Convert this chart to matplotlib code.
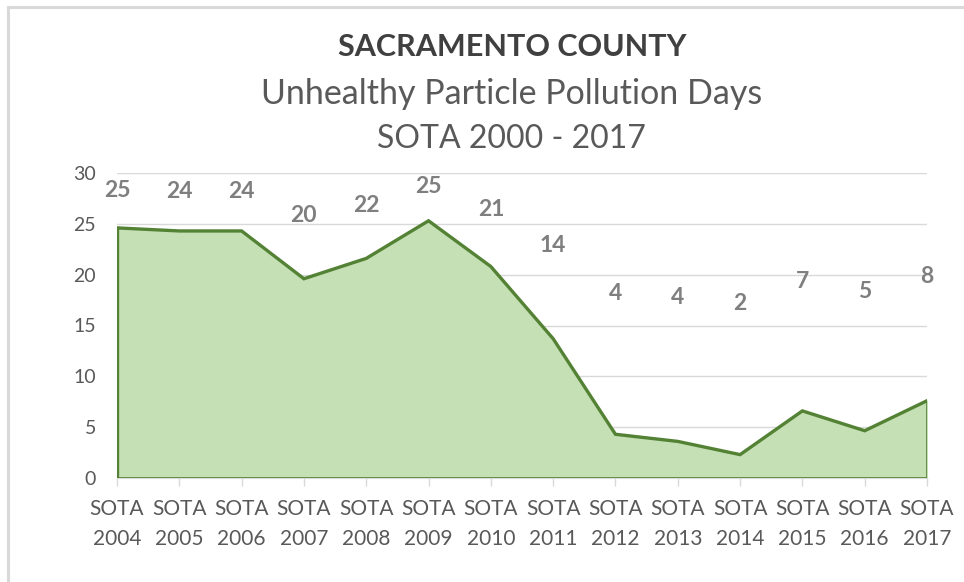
import matplotlib
matplotlib.use("Agg")
import matplotlib.pyplot as plt
from matplotlib.patches import Rectangle

categories = ["SOTA\n2004", "SOTA\n2005", "SOTA\n2006", "SOTA\n2007", "SOTA\n2008",
              "SOTA\n2009", "SOTA\n2010", "SOTA\n2011", "SOTA\n2012", "SOTA\n2013",
              "SOTA\n2014", "SOTA\n2015", "SOTA\n2016", "SOTA\n2017"]
values = [24.6, 24.3, 24.3, 19.6, 21.6, 25.3, 20.8, 13.7, 4.3, 3.6, 2.3, 6.6, 4.65, 7.6]
labels = ["25", "24", "24", "20", "22", "25", "21", "14", "4", "4", "2", "7", "5", "8"]
yticks = [0, 5, 10, 15, 20, 25, 30]

title1 = "SACRAMENTO COUNTY"
title2 = "Unhealthy Particle Pollution Days"
title3 = "SOTA 2000 - 2017"

plt.rcParams['font.family'] = ['Lato', 'DejaVu Sans']

fig = plt.figure(figsize=(9.64, 5.82), dpi=100)
fig.patch.set_facecolor("white")
# outer border
fig.patches.append(Rectangle((8 / 964, -0.01), 1.02, (582 - 7) / 582 + 0.01,
                             transform=fig.transFigure, fill=False,
                             edgecolor="#d9d9d9", linewidth=2.2))

ax = fig.add_axes([117 / 964, (582 - 478) / 582, (927 - 117) / 964, (478 - 173) / 582])
x = list(range(len(values)))
ax.fill_between(x, values, 0, color="#c5e0b4", zorder=2)
ax.plot(x, values, color="#548235", linewidth=2.4, zorder=3, solid_joinstyle="miter")
ax.plot([0, 0], [0, values[0]], color="#548235", linewidth=2.4, zorder=3)
ax.plot([x[-1], x[-1]], [0, values[-1]], color="#548235", linewidth=1.2, zorder=3)
ax.plot([0, x[-1]], [0, 0], color="#548235", linewidth=1.2, zorder=3)

ax.set_xlim(0, len(values) - 1)
ax.set_ylim(0, 30)
ax.set_yticks(yticks)
ax.set_xticks(x)
ax.set_xticklabels(categories, fontsize=15, color="#595959", linespacing=1.64)
ax.tick_params(axis="y", length=0, labelsize=14, labelcolor="#595959", pad=15)
ax.tick_params(axis="x", length=6, color="#d9d9d9", width=1, pad=9)
ax.grid(axis="y", color="#d9d9d9", linewidth=1, zorder=0)
for s in ["top", "right", "left"]:
    ax.spines[s].set_visible(False)
ax.spines["bottom"].set_color("#d9d9d9")
ax.set_axisbelow(True)

for xi, v, lab in zip(x, values, labels):
    ax.text(xi, 16 + 0.5 * v, lab, ha="center", va="center", fontsize=16.5,
            fontweight="bold", color="#7f7f7f", clip_on=False, zorder=4)

fig.text(0.531, 1 - 56 / 582, title1, ha="center", va="baseline", fontsize=22,
         fontweight="bold", color="#404040")
fig.text(0.531, 1 - 104 / 582, title2, ha="center", va="baseline", fontsize=24.5,
         color="#595959")
fig.text(0.531, 1 - 148 / 582, title3, ha="center", va="baseline", fontsize=23,
         color="#595959")

fig.savefig("out.png", dpi=100, facecolor="white")
